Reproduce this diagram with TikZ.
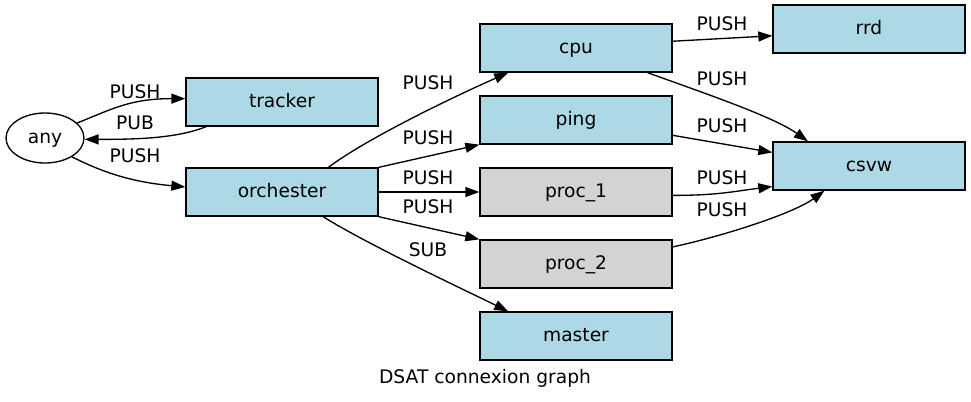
\documentclass[tikz,border=0pt]{standalone}
\usepackage{fontspec}
\setmainfont{DejaVu Sans}
\usetikzlibrary{positioning, arrows.meta, shapes.geometric}

\definecolor{svcblue}{RGB}{173,216,230}
\definecolor{procgray}{RGB}{211,211,211}

\tikzset{
    svc/.style={draw, fill=svcblue, line width=1pt, minimum width=144pt, minimum height=36pt,
        inner sep=0pt, text height=10pt, text depth=2.5pt},
    proc/.style={svc, fill=procgray},
    client/.style={draw, ellipse, line width=1pt, minimum width=58.5pt, minimum height=37.5pt,
        inner sep=0pt, text height=10pt, text depth=2.5pt},
    conn/.style={-{Triangle[length=10.5pt, width=7.5pt]}, line width=1pt},
    lbl/.style={inner sep=0pt}
}

\begin{document}
\begin{tikzpicture}[x=0.75pt, y=-0.75pt, font=\fontsize{14pt}{16pt}\selectfont, node distance=17pt]
    \useasboundingbox (0,0) rectangle (971,401);

    \node[client] (any) at (45,138) {any};
    \node[svc] (tracker) at (282,102) {tracker};
    \node[svc] (orchester) at (282,192) {orchester};

    \node[svc] (cpu) at (576,48) {cpu};
    \node[svc, below=of cpu] (ping) {ping};
    \node[proc, below=of ping] (proc1) {proc\_1};
    \node[proc, below=of proc1] (proc2) {proc\_2};
    \node[svc, below=of proc2] (master) {master};

    \node[svc] (rrd) at (869,29) {rrd};
    \node[svc] (csvw) at (869,166) {csvw};

    \draw[conn] (any.25) .. controls +(35,-14) and +(-55,0) .. (tracker.178);
    \draw[conn] (tracker.198) .. controls +(-30,12) and +(50,0) .. (any.-2);
    \draw[conn] (any.-35) .. controls +(30,15) and +(-55,-5) .. (orchester.177);

    \draw[conn] (orchester.28) .. controls +(40,-30) and +(-50,22) .. (cpu.200);
    \draw[conn] (orchester.north east) -- (ping.south west);
    \draw[conn] (orchester.east) -- (proc1.west);
    \draw[conn] (orchester.south east) -- (proc2.north west);
    \draw[conn] (orchester.-31) .. controls +(45,28) and +(-45,-22) .. (master.160);

    \draw[conn] (cpu.4) -- (rrd.184);
    \draw[conn] (cpu.-19) .. controls +(55,20) and +(-35,-25) .. (csvw.158);
    \draw[conn] (ping.-9.5) -- (csvw.172);
    \draw[conn] (proc1.-2) .. controls +(45,0) and +(-40,5) .. (csvw.192);
    \draw[conn] (proc2.10) .. controls +(55,-12) and +(-30,22) .. (csvw.-151);

    \node[lbl] (pushTracker) at (135,92) {PUSH};
    \node[lbl] (pubAny) at (135,123) {PUB};
    \node[lbl] (pushOrchester) at (135,156) {PUSH};

    \node[lbl] (pushCpu) at (428,83) {PUSH};
    \node[lbl] (pushPing) at (428,138) {PUSH};
    \node[lbl] (pushProcA) at (428,178) {PUSH};
    \node[lbl] (pushProcB) at (428,207) {PUSH};
    \node[lbl] (subMaster) at (428,250) {SUB};

    \node[lbl] (pushRrd) at (722,24) {PUSH};
    \node[lbl] (pushCsvwCpu) at (722,79) {PUSH};
    \node[lbl] (pushCsvwPing) at (722,126) {PUSH};
    \node[lbl] (pushCsvwProcA) at (722,178) {PUSH};
    \node[lbl] (pushCsvwProcB) at (722,210) {PUSH};

    \node[anchor=base] (caption) at (485,383) {DSAT connexion graph};
\end{tikzpicture}
\end{document}
